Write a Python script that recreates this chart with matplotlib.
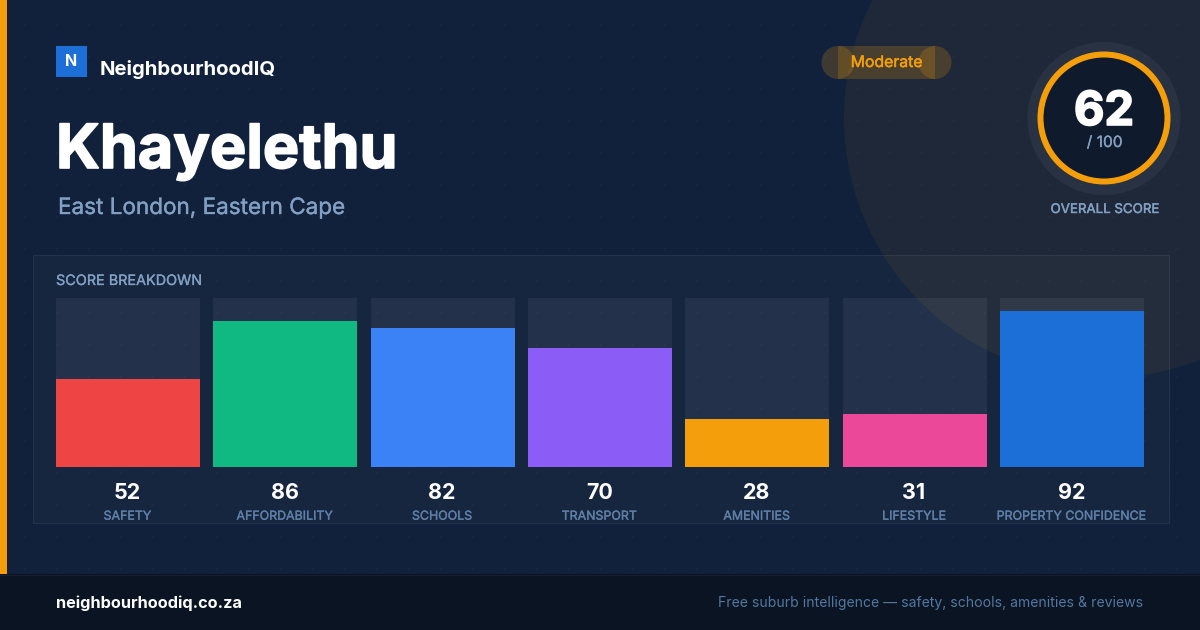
import matplotlib
matplotlib.use('Agg')
import matplotlib.pyplot as plt
import matplotlib.patheffects as pe
from matplotlib.patches import Circle, Rectangle
import numpy as np

# chart data
categories = ['SAFETY', 'AFFORDABILITY', 'SCHOOLS', 'TRANSPORT', 'AMENITIES', 'LIFESTYLE', 'PROPERTY CONFIDENCE']
scores = [52, 86, 82, 70, 28, 31, 92]
bar_colors = ['#ef4444', '#10b981', '#3b82f6', '#8b5cf6', '#f59e0b', '#ec4899', '#1d6fd8']
overall_score = 62

ORANGE = '#f59e0b'
MUTED = '#83a0c2'
LABEL = '#5f7fa6'

plt.rcParams['font.family'] = ['Inter', 'DejaVu Sans']


def px(size):
    # css pixels to points at dpi 100
    return size * 0.72


def thick(amount, color='white'):
    # Inter only comes in a few weights here, a thin stroke fakes the rest
    return [pe.withStroke(linewidth=amount, foreground=color)]


fig = plt.figure(figsize=(12, 6.3), dpi=100)
fig.patch.set_facecolor('#11213b')

# background layer, in pixel coordinates
bg = fig.add_axes([0, 0, 1, 1], zorder=0)
bg.set_xlim(0, 1200)
bg.set_ylim(630, 0)
bg.axis('off')

bg.add_patch(Circle((1104, 118), 260, fc=ORANGE, alpha=0.06, lw=0, zorder=1))

dx, dy = np.meshgrid(np.arange(24, 1200, 32), np.arange(24, 574, 32))
bg.scatter(dx.ravel(), dy.ravel(), s=3, c='white', alpha=0.03, lw=0, zorder=2)

bg.add_patch(Rectangle((32.5, 254.5), 1136, 268, fc=(1, 1, 1, 0.025), ec=(1, 1, 1, 0.07), lw=0.72, zorder=3))
bg.add_patch(Rectangle((0, 0), 7, 630, fc=ORANGE, lw=0, zorder=4))
bg.add_patch(Rectangle((0, 574), 1200, 56, fc='#0a1422', lw=0, zorder=5))
bg.plot([0, 1200], [574.5, 574.5], color='white', alpha=0.05, lw=0.72, zorder=6)

# logo and heading
bg.add_patch(Rectangle((56, 46), 31, 31, fc='#1d6fd8', lw=0, zorder=5))
bg.text(71.5, 61, 'N', color='white', fontsize=px(16), fontweight='bold', ha='center', va='center', zorder=6)
bg.text(100, 75, 'NeighbourhoodIQ', color='white', fontsize=px(20.3), fontweight='bold', zorder=6)
bg.text(56, 168, 'Khayelethu', color='white', fontsize=px(61), fontweight='bold', zorder=6,
        path_effects=thick(1.2))
bg.text(58, 214, 'East London, Eastern Cape', color=MUTED, fontsize=px(22.5), zorder=6,
        path_effects=thick(0.25, MUTED))

# rating pill
for cx in (838, 935):
    bg.add_patch(Circle((cx, 62.5), 16.5, fc=ORANGE, alpha=0.2, lw=0, zorder=5))
bg.add_patch(Rectangle((838, 46), 97, 33, fc=ORANGE, alpha=0.2, lw=0, zorder=5))
bg.text(886.5, 62.5, 'Moderate', color=ORANGE, fontsize=px(15.8), ha='center', va='center', zorder=6,
        path_effects=thick(0.35, ORANGE))

# score ring
bg.add_patch(Circle((1104, 118.5), 76.5, fc='white', alpha=0.05, lw=0, zorder=5))
bg.add_patch(Circle((1104, 118), 63.5, fc='#0f1b2d', ec=ORANGE, lw=6 * 0.72, zorder=6))
bg.text(1104, 125, str(overall_score), color='white', fontsize=px(47), fontweight='bold', ha='center', zorder=7,
        path_effects=thick(1.2))
bg.text(1104.5, 147, '/ 100', color=MUTED, fontsize=px(15.5), ha='center', zorder=7,
        path_effects=thick(0.2, MUTED))
bg.text(1104.5, 213, 'OVERALL SCORE', color=MUTED, fontsize=px(13.3), ha='center', zorder=7,
        path_effects=thick(0.3, MUTED))

# panel title and footer
bg.text(56, 285, 'SCORE BREAKDOWN', color=MUTED, fontsize=px(14.4), zorder=7,
        path_effects=thick(0.2, MUTED))
bg.text(56, 608, 'neighbourhoodiq.co.za', color='white', fontsize=px(16.3), fontweight='bold', zorder=7)
bg.text(1143, 607, 'Free suburb intelligence \u2014 safety, schools, amenities & reviews', color='#54779f',
        fontsize=px(14), ha='right', zorder=7)

# bars, left edge of axes is left edge of first bar
ax = fig.add_axes([56 / 1200, (630 - 466.7) / 630, 1088 / 1200, 169 / 630], zorder=1)
ax.patch.set_alpha(0)
x = np.arange(len(categories))
width = 144 / (944 / 6)
ax.bar(x, [100] * len(x), width=width, color='white', alpha=0.06, lw=0)
ax.bar(x, scores, width=width, color=bar_colors, lw=0)
ax.set_xlim(-width / 2, x[-1] + width / 2)
ax.set_ylim(0, 100)
ax.axis('off')

for i, (name, score) in enumerate(zip(categories, scores)):
    ax.annotate(str(score), (i, 0), xytext=(-0.5, -32 * 0.72), xycoords='data', textcoords='offset points',
                color='white', fontsize=px(21.5), fontweight='bold', ha='center', annotation_clip=False)
    ax.annotate(name, (i, 0), xytext=(-0.5, -53 * 0.72), xycoords='data', textcoords='offset points',
                color=LABEL, fontsize=px(12.4), ha='center', annotation_clip=False,
                path_effects=thick(0.25, LABEL))

fig.savefig('out.png', dpi=100, facecolor=fig.get_facecolor())
